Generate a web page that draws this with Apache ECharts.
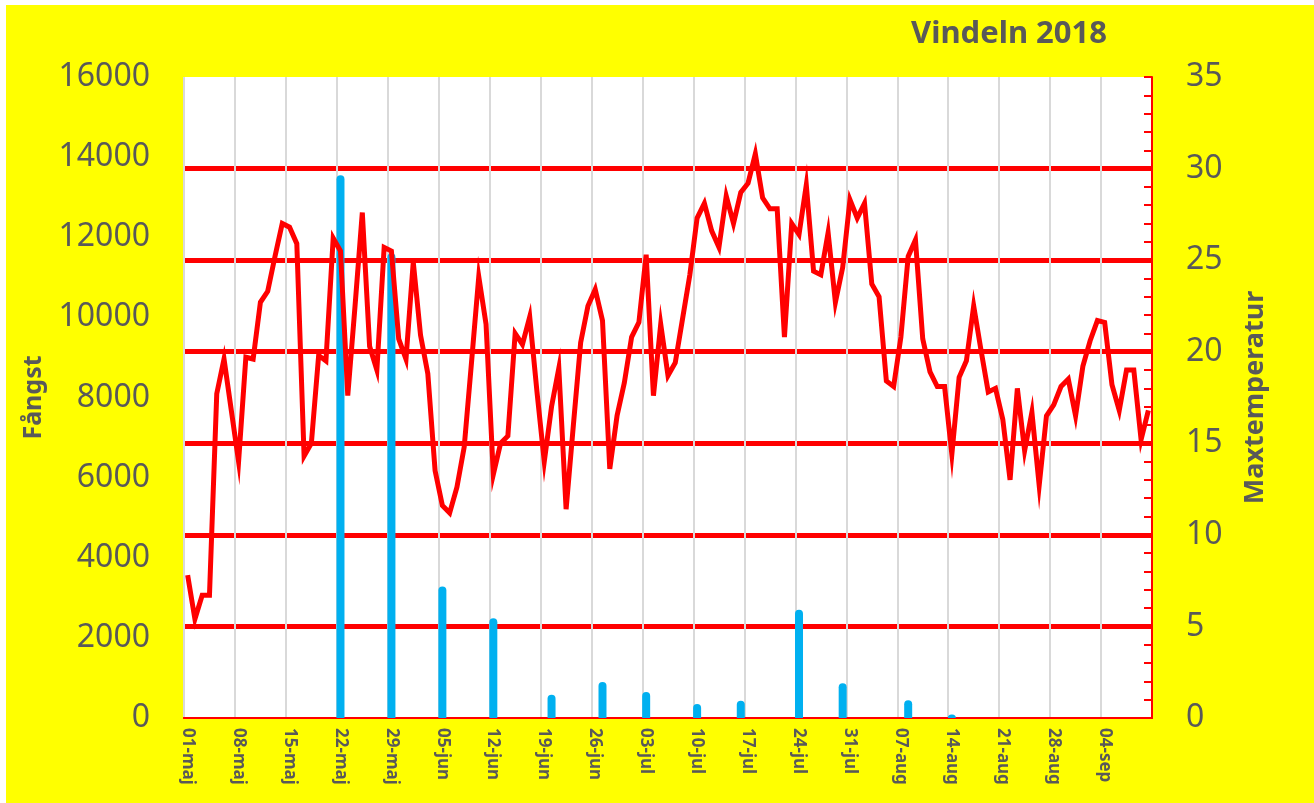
<!DOCTYPE html>
<html>
<head>
<meta charset="utf-8">
<title>Vindeln 2018</title>
<script src="https://cdn.jsdelivr.net/npm/echarts@6/dist/echarts.min.js"></script>
<style>
  html, body { margin: 0; padding: 0; background: #ffffff; }
  #chart { position: absolute; left: 6px; top: 5px; width: 1308px; height: 798px; background: #ffff00; }
</style>
</head>
<body>
<div id="chart"></div>
<script>
// dagar från 01-maj till 10-sep 2018
var startDate = new Date(2018, 4, 1);
var dayCount = 133;
var monthNames = ['jan', 'feb', 'mar', 'apr', 'maj', 'jun', 'jul', 'aug', 'sep', 'okt', 'nov', 'dec'];

// maxtemperatur per dag (högeraxel)
var maxTemp = [
  7.8, 5.4, 6.7, 6.7, 17.7, 19.6, 16.8, 14.0, 19.7, 19.6,
  22.7, 23.3, 25.2, 27.0, 26.8, 25.9, 14.3, 15.0, 19.8, 19.5,
  26.2, 25.5, 17.6, 22.5, 27.6, 20.3, 19.0, 25.7, 25.5, 20.7,
  19.6, 24.9, 20.9, 18.8, 13.5, 11.6, 11.2, 12.6, 14.8, 19.4,
  24.1, 21.5, 13.3, 15.0, 15.4, 21.0, 20.4, 21.9, 17.8, 14.0,
  17.0, 19.1, 11.4, 16.0, 20.5, 22.5, 23.4, 21.7, 13.6, 16.5,
  18.3, 20.8, 21.6, 25.3, 17.6, 21.5, 18.7, 19.4, 21.8, 24.2,
  27.3, 28.1, 26.6, 25.7, 28.5, 27.0, 28.7, 29.2, 30.8, 28.4,
  27.8, 27.8, 20.8, 27.0, 26.4, 29.1, 24.4, 24.2, 26.5, 22.7,
  24.6, 28.3, 27.3, 28.1, 23.7, 23.0, 18.4, 18.1, 20.8, 25.2,
  26.1, 20.7, 18.9, 18.1, 18.1, 14.4, 18.6, 19.5, 22.5, 20.1,
  17.8, 18.0, 16.3, 13.0, 18.0, 14.6, 16.7, 12.7, 16.5, 17.1,
  18.1, 18.5, 16.5, 19.2, 20.6, 21.7, 21.6, 18.2, 16.8, 19.0,
  19.0, 15.2, 16.8
];

// fångst (vänsteraxel)
var fangstDates = ['22-maj', '29-maj', '05-jun', '12-jun', '20-jun', '27-jun', '03-jul', '10-jul', '16-jul', '24-jul', '30-jul', '08-aug', '14-aug'];
var fangst = [13550, 11600, 3280, 2490, 580, 900, 650, 350, 430, 2700, 870, 440, 90];

var leftTicks = { min: 0, max: 16000, step: 2000 };
var rightTicks = { min: 0, max: 35, step: 5 };

var days = [];
for (var i = 0; i < dayCount; i++) {
  var d = new Date(startDate.getTime() + i * 86400000);
  var dd = d.getDate() < 10 ? '0' + d.getDate() : '' + d.getDate();
  days.push(dd + '-' + monthNames[d.getMonth()]);
}

var barData = fangstDates.map(function (dt, k) { return [dt, fangst[k]]; });

var textGrey = '#595959';
var chart = echarts.init(document.getElementById('chart'));
chart.setOption({
  backgroundColor: '#ffff00',
  animation: false,
  title: {
    text: 'Vindeln 2018',
    left: 900,
    top: 9,
    textStyle: { color: textGrey, fontSize: 31, fontWeight: 'bold', fontFamily: 'Noto Sans' }
  },
  grid: { left: 178, right: 162, top: 72, bottom: 85, containLabel: false, backgroundColor: '#ffffff', show: true, borderWidth: 0 },
  xAxis: [
    {
      type: 'category',
      data: days,
      boundaryGap: true,
      axisLine: { lineStyle: { color: '#ff0000', width: 2 } },
      axisTick: { interval: 6, length: 5, lineStyle: { color: '#d9d9d9', width: 2 } },
      axisLabel: {
        interval: 6, rotate: -90, margin: 10,
        color: textGrey, fontSize: 17, fontWeight: 'bold', fontFamily: 'Noto Sans'
      },
      splitLine: { show: true, interval: 6, lineStyle: { color: '#d9d9d9', width: 2 } }
    },
    {
      type: 'category',
      data: days,
      position: 'top',
      axisLine: { lineStyle: { color: '#ff0000', width: 2 } },
      axisTick: { show: false },
      axisLabel: { show: false },
      splitLine: { show: false }
    }
  ],
  yAxis: [
    {
      type: 'value',
      min: leftTicks.min, max: leftTicks.max, interval: leftTicks.step,
      name: 'Fångst',
      nameLocation: 'middle',
      nameRotate: 90,
      nameGap: 138,
      nameTextStyle: { color: textGrey, fontSize: 25, fontWeight: 'bold', fontFamily: 'Noto Sans' },
      axisLine: { show: false },
      axisTick: { show: false },
      splitLine: { show: false },
      axisLabel: {
        color: textGrey, fontSize: 32, margin: 34, fontFamily: 'Noto Sans',
        formatter: function (v) { return String(v); }
      }
    },
    {
      type: 'value',
      position: 'right',
      min: rightTicks.min, max: rightTicks.max, interval: rightTicks.step,
      name: 'Maxtemperatur',
      nameLocation: 'middle',
      nameRotate: 90,
      nameGap: 90,
      nameTextStyle: { color: textGrey, fontSize: 27, fontWeight: 'bold', fontFamily: 'Noto Sans' },
      axisLine: { show: true, lineStyle: { color: '#ff0000', width: 2 } },
      axisTick: { show: true, inside: true, length: 8, lineStyle: { color: '#ff0000', width: 2 } },
      minorTick: { show: true, splitNumber: 5, length: 8, lineStyle: { color: '#ff0000', width: 2 } },
      splitLine: { show: true, showMinLine: false, showMaxLine: false, lineStyle: { color: '#ff0000', width: 5 } },
      axisLabel: { color: textGrey, fontSize: 32, margin: 34, fontFamily: 'Noto Sans' }
    }
  ],
  series: [
    {
      name: 'Fångst',
      type: 'bar',
      xAxisIndex: 0,
      yAxisIndex: 0,
      data: barData,
      barWidth: 8,
      itemStyle: { color: '#00b0f0', borderRadius: [4, 4, 0, 0] }
    },
    {
      name: 'Maxtemperatur',
      type: 'line',
      xAxisIndex: 0,
      yAxisIndex: 1,
      data: maxTemp,
      showSymbol: false,
      lineStyle: { color: '#ff0000', width: 5, join: 'miter' },
      z: 3
    }
  ]
});
</script>
</body>
</html>
